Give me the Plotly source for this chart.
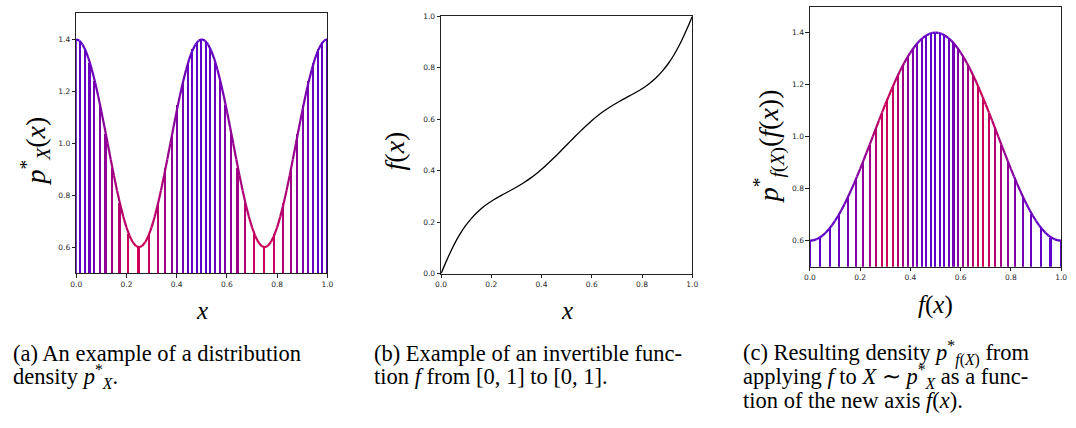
import numpy as np
import plotly.graph_objects as go

# ---------------- data ----------------
# (a) density p*_X(x): sample positions and values
curve_a_x = [round(k * 0.0125, 4) for k in range(81)]
curve_a_y = [1.4, 1.395, 1.3804, 1.3564, 1.3236, 1.2828, 1.2351, 1.1816, 1.1236, 1.0626,
             1.0, 0.9374, 0.8764, 0.8184, 0.7649, 0.7172, 0.6764, 0.6436, 0.6196, 0.6049,
             0.6, 0.6049, 0.6196, 0.6436, 0.6764, 0.7172, 0.7649, 0.8184, 0.8764, 0.9374,
             1.0, 1.0626, 1.1236, 1.1816, 1.2351, 1.2828, 1.3236, 1.3564, 1.3804, 1.395,
             1.4, 1.395, 1.3804, 1.3564, 1.3236, 1.2828, 1.2351, 1.1816, 1.1236, 1.0626,
             1.0, 0.9374, 0.8764, 0.8184, 0.7649, 0.7172, 0.6764, 0.6436, 0.6196, 0.6049,
             0.6, 0.6049, 0.6196, 0.6436, 0.6764, 0.7172, 0.7649, 0.8184, 0.8764, 0.9374,
             1.0, 1.0626, 1.1236, 1.1816, 1.2351, 1.2828, 1.3236, 1.3564, 1.3804, 1.395,
             1.4]

# (a) vertical lines: positions (quantiles) and heights
lines_a_x = [0.0, 0.0179, 0.0361, 0.0548, 0.0744, 0.0953, 0.1183, 0.1441, 0.1740, 0.2095,
             0.25, 0.2905, 0.3260, 0.3559, 0.3817, 0.4047, 0.4256, 0.4452, 0.4639, 0.4821,
             0.5, 0.5179, 0.5361, 0.5548, 0.5744, 0.5953, 0.6183, 0.6441, 0.6740, 0.7095,
             0.75, 0.7905, 0.8260, 0.8559, 0.8817, 0.9047, 0.9256, 0.9452, 0.9639, 0.9821,
             1.0]
lines_a_h = [1.4, 1.3899, 1.3596, 1.3088, 1.2373, 1.1459, 1.0336, 0.9049, 0.7691, 0.6508,
             0.6, 0.6508, 0.7691, 0.9049, 1.0336, 1.1459, 1.2373, 1.3088, 1.3596, 1.3899,
             1.4, 1.3899, 1.3596, 1.3088, 1.2373, 1.1459, 1.0336, 0.9049, 0.7691, 0.6508,
             0.6, 0.6508, 0.7691, 0.9049, 1.0336, 1.1459, 1.2373, 1.3088, 1.3596, 1.3899,
             1.4]

# (b) invertible function f: x -> f(x)
func_b_x = lines_a_x
func_b_y = [0.0, 0.0414, 0.0810, 0.1180, 0.1520, 0.1831, 0.2118, 0.2385, 0.2634, 0.2870,
            0.3093, 0.3307, 0.3512, 0.3711, 0.3904, 0.4093, 0.4278, 0.4461, 0.4642, 0.4821,
            0.5, 0.5179, 0.5358, 0.5539, 0.5722, 0.5907, 0.6096, 0.6289, 0.6488, 0.6693,
            0.6907, 0.7130, 0.7366, 0.7615, 0.7882, 0.8169, 0.8480, 0.8820, 0.9190, 0.9586,
            1.0]

# (c) resulting density as a function of f(x)
curve_c_x = [round(k * 0.0125, 4) for k in range(81)]
curve_c_y = [0.6, 0.6012, 0.6049, 0.6111, 0.6196, 0.6305, 0.6436, 0.6589, 0.6764, 0.6958,
             0.7172, 0.7402, 0.7649, 0.791, 0.8184, 0.8469, 0.8764, 0.9066, 0.9374, 0.9686,
             1.0, 1.0314, 1.0626, 1.0934, 1.1236, 1.1531, 1.1816, 1.209, 1.2351, 1.2598,
             1.2828, 1.3042, 1.3236, 1.3411, 1.3564, 1.3695, 1.3804, 1.3889, 1.3951, 1.3988,
             1.4, 1.3988, 1.3951, 1.3889, 1.3804, 1.3695, 1.3564, 1.3411, 1.3236, 1.3042,
             1.2828, 1.2598, 1.2351, 1.209, 1.1816, 1.1531, 1.1236, 1.0934, 1.0626, 1.0314,
             1.0, 0.9686, 0.9374, 0.9066, 0.8764, 0.8469, 0.8184, 0.791, 0.7649, 0.7402,
             0.7172, 0.6958, 0.6764, 0.6589, 0.6436, 0.6305, 0.6196, 0.6111, 0.6049, 0.6012,
             0.6]
lines_c_x = func_b_y
lines_c_h = [0.6, 0.6134, 0.6507, 0.7050, 0.7690, 0.8368, 0.9049, 0.9711, 1.0337, 1.0922,
             1.1456, 1.1945, 1.2378, 1.2756, 1.3093, 1.3369, 1.3598, 1.3775, 1.3902, 1.3975,
             1.4, 1.3975, 1.3902, 1.3775, 1.3598, 1.3369, 1.3093, 1.2756, 1.2378, 1.1945,
             1.1456, 1.0922, 1.0337, 0.9711, 0.9049, 0.8368, 0.7690, 0.7050, 0.6507, 0.6134,
             0.6]

ticks_01 = [0.0, 0.2, 0.4, 0.6, 0.8, 1.0]
ticks_dens = [0.6, 0.8, 1.0, 1.2, 1.4]

# ---------------- style ----------------
W, H = 1076, 428
PURPLE = np.array([92, 0, 204])
RED = np.array([204, 0, 88])


def col(t):
    t = float(np.clip(t, 0, 1))
    c = RED + (PURPLE - RED) * t
    return "rgb(%d,%d,%d)" % tuple(c.round().astype(int))


def tval(p):
    return (np.asarray(p, dtype=float) - 0.6) / 0.8


def px_x(p):
    return p / W


def px_y(p):
    return 1 - p / H


fig = go.Figure()

# (a) vertical lines
t_a = tval(lines_a_h)
fig.add_trace(go.Bar(x=lines_a_x, y=np.array(lines_a_h) - 0.5, base=0.5, width=0.0064,
                     marker=dict(color=[col(t) for t in t_a], line=dict(width=0)),
                     xaxis="x", yaxis="y", showlegend=False, hoverinfo="skip"))
# (a) curve, gradient-coloured segments
t_ca = tval(curve_a_y)
for i in range(len(curve_a_x) - 1):
    fig.add_trace(go.Scatter(x=curve_a_x[i:i + 2], y=curve_a_y[i:i + 2], mode="lines",
                             line=dict(color=col((t_ca[i] + t_ca[i + 1]) / 2), width=2.2),
                             xaxis="x", yaxis="y", showlegend=False, hoverinfo="skip"))

# (b) function
fig.add_trace(go.Scatter(x=func_b_x, y=func_b_y, mode="lines",
                         line=dict(color="black", width=1.3, shape="spline"),
                         xaxis="x2", yaxis="y2", showlegend=False, hoverinfo="skip"))

# (c) vertical lines (colour carried from the original points)
fig.add_trace(go.Bar(x=lines_c_x, y=np.array(lines_c_h) - 0.5, base=0.5, width=0.0064,
                     marker=dict(color=[col(t) for t in t_a], line=dict(width=0)),
                     xaxis="x3", yaxis="y3", showlegend=False, hoverinfo="skip"))
t_cc = np.interp(curve_c_x, lines_c_x, t_a)
for i in range(len(curve_c_x) - 1):
    fig.add_trace(go.Scatter(x=curve_c_x[i:i + 2], y=curve_c_y[i:i + 2], mode="lines",
                             line=dict(color=col((t_cc[i] + t_cc[i + 1]) / 2), width=2.2),
                             xaxis="x3", yaxis="y3", showlegend=False, hoverinfo="skip"))

tickfont = dict(family="DejaVu Sans", size=7.5, color="#262626")
ax_common = dict(showline=True, linecolor="#222", linewidth=1, mirror=True,
                 ticks="outside", ticklen=3.5, tickwidth=0.8, tickcolor="#222",
                 showgrid=False, zeroline=False, tickfont=tickfont, tickformat=".1f",
                 fixedrange=True)

fig.update_layout(
    width=W, height=H, margin=dict(l=0, r=0, t=0, b=0), autosize=False,
    paper_bgcolor="white", plot_bgcolor="white", bargap=0,
    xaxis=dict(domain=[px_x(71), px_x(325)], range=[0, 1], tickvals=ticks_01, anchor="y", **ax_common),
    yaxis=dict(domain=[px_y(275), px_y(9.5)], range=[0.5, 1.5], tickvals=ticks_dens, anchor="x", **ax_common),
    xaxis2=dict(domain=[px_x(440), px_x(694)], range=[0, 1], tickvals=ticks_01, anchor="y2", **ax_common),
    yaxis2=dict(domain=[px_y(275.3), px_y(12.7)], range=[0, 1], tickvals=ticks_01, anchor="x2", **ax_common),
    xaxis3=dict(domain=[px_x(813), px_x(1067)], range=[0, 1], tickvals=ticks_01, anchor="y3", **ax_common),
    yaxis3=dict(domain=[px_y(268.3), px_y(2.7)], range=[0.5, 1.5], tickvals=ticks_dens, anchor="x3", **ax_common),
)

MATH = dict(family="Liberation Serif", size=25, color="black")
YMATH = dict(family="Liberation Serif", size=28, color="black")
CAP = dict(family="Liberation Serif", size=22.5, color="black")


def ann(text, x, y, font, angle=0, xanchor="center"):
    fig.add_annotation(text=text, x=px_x(x), y=px_y(y), xref="paper", yref="paper",
                       showarrow=False, font=font, textangle=angle, xanchor=xanchor,
                       yanchor="middle", borderpad=0)


# axis titles
ann("<i>p</i><sup>*</sup><sub><i>X</i></sub>(<i>x</i>)", 30, 150, YMATH, angle=-90)
ann("<i>x</i>", 198, 313, MATH)
ann("<i>f</i>(<i>x</i>)", 393, 150, YMATH, angle=-90)
ann("<i>x</i>", 567, 313, MATH)
ann("<i>p</i><sup>*</sup><sub><i>f</i>(<i>X</i>)</sub>(<i>f</i>(<i>x</i>))", 772, 145, YMATH, angle=-90)
ann("<i>f</i>(<i>x</i>)", 940, 307, MATH)

# captions
ann("(a) An example of a distribution", 6, 357, CAP, xanchor="left")
ann("density <i>p</i><sup>*</sup><sub><i>X</i></sub>.", 6, 381, CAP, xanchor="left")
ann("(b) Example of an invertible func-", 371, 357, CAP, xanchor="left")
ann("tion <i>f</i> from [0, 1] to [0, 1].", 371, 381, CAP, xanchor="left")
ann("(c) Resulting density <i>p</i><sup>*</sup><sub><i>f</i>(<i>X</i>)</sub> from", 744, 357, CAP, xanchor="left")
ann("applying <i>f</i> to <i>X</i> ∼ <i>p</i><sup>*</sup><sub><i>X</i></sub> as a func-", 744, 381, CAP, xanchor="left")
ann("tion of the new axis <i>f</i>(<i>x</i>).", 744, 405, CAP, xanchor="left")

# the page body keeps an 8px browser margin by default; remove it so that the
# figure starts at the page's top-left corner
fig.write_html("out.html", config={"displayModeBar": False},
               post_script="document.body.style.margin='0';")
